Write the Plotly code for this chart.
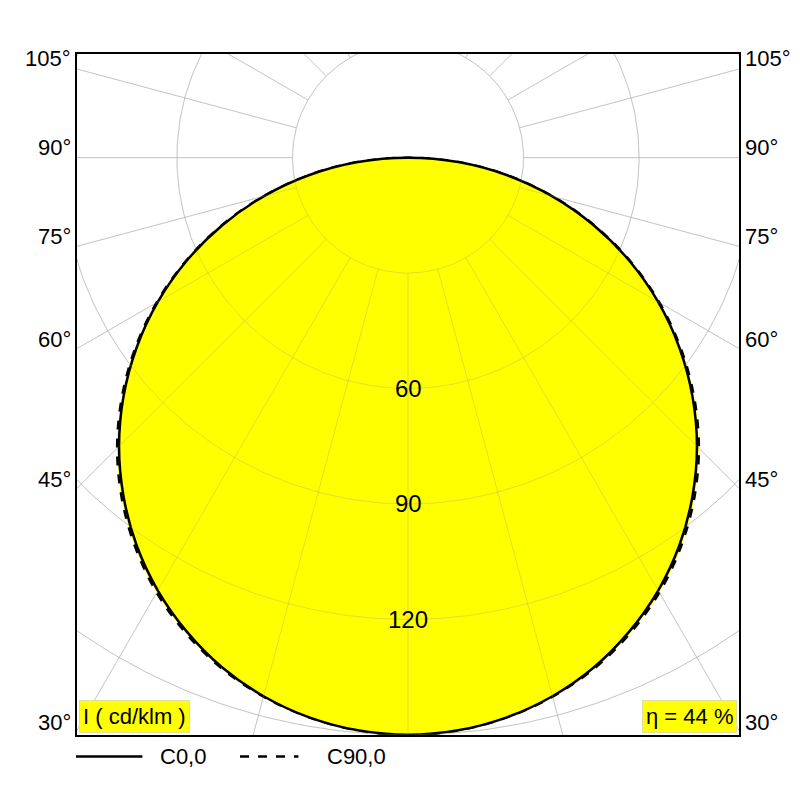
import numpy as np
import plotly.graph_objects as go

angles = [0,5,10,15,20,25,30,35,40,45,50,55,60,65,70,75,80,85,90]
c0 = [150,149.4,147.7,144.9,141.0,135.9,129.9,122.9,114.9,106.1,96.4,86.0,75.0,63.4,51.3,38.8,26.0,13.1,0]
c90 = [150,149.4,147.7,145.0,141.3,136.4,130.5,123.5,115.6,106.8,97.0,86.5,75.4,63.7,51.5,38.9,26.1,13.1,0]
grid_r = [30,60,90,120,150,180]
ring_labels = [60,90,120]
side_labels = [30,45,60,75,90,105]
eta_text = "η = 44 %"
unit_text = "I ( cd/klm )"

def xy(ang, r):
    a = np.radians(np.array(ang, float))
    r = np.array(r, float)
    return r*np.sin(a), -r*np.cos(a)

fig = go.Figure()
GC = "#dcdcdc"
t = np.linspace(0, 360, 361)

def grid(color):
    for r in grid_r:
        x, y = xy(t, [r]*len(t))
        fig.add_trace(go.Scatter(x=x, y=y, mode="lines", line=dict(color=color, width=1), hoverinfo="skip", showlegend=False))
    for a in range(0, 360, 15):
        x, y = xy([a, a], [30, 200])
        fig.add_trace(go.Scatter(x=x, y=y, mode="lines", line=dict(color=color, width=1), hoverinfo="skip", showlegend=False))

grid(GC)
full_a = [-a for a in angles[::-1]] + angles[1:]
full0 = c0[::-1] + c0[1:]
full90 = c90[::-1] + c90[1:]
x, y = xy(full_a, full90)
fig.add_trace(go.Scatter(x=x, y=y, mode="lines", fill="toself", fillcolor="#ffff00",
                         line=dict(color="black", width=2.5, dash="dash", shape="spline"), showlegend=False))
x, y = xy(full_a, full0)
fig.add_trace(go.Scatter(x=x, y=y, mode="lines", fill="toself", fillcolor="#ffff00",
                         line=dict(color="black", width=2.5, shape="spline"), showlegend=False))
grid("rgba(150,150,150,0.3)")

ann = []
for r in ring_labels:
    ann.append(dict(x=0, y=-r, text=str(r), showarrow=False, font=dict(size=24, color="black")))
XR = 86.2
for a in side_labels:
    yv = -XR/np.tan(np.radians(a)) + 2.6
    ann.append(dict(x=0, xref="paper", xanchor="right", xshift=-3, y=yv, text=f"{a}°", showarrow=False, font=dict(size=22)))
    ann.append(dict(x=1, xref="paper", xanchor="left", xshift=3, y=yv, text=f"{a}°", showarrow=False, font=dict(size=22)))
ann.append(dict(x=0.005, y=0.005, xref="paper", yref="paper", xanchor="left", yanchor="bottom", text=unit_text,
                showarrow=False, bgcolor="#ffff00", bordercolor="#e0e0a0", borderwidth=1, font=dict(size=22), borderpad=3))
ann.append(dict(x=0.995, y=0.005, xref="paper", yref="paper", xanchor="right", yanchor="bottom", text=eta_text,
                showarrow=False, bgcolor="#ffff00", bordercolor="#e0e0a0", borderwidth=1, font=dict(size=22), borderpad=3))
LY = -0.03
ann.append(dict(x=0.123, y=LY, xref="paper", yref="paper", xanchor="left", yanchor="middle", text="C0,0", showarrow=False, font=dict(size=22)))
ann.append(dict(x=0.375, y=LY, xref="paper", yref="paper", xanchor="left", yanchor="middle", text="C90,0", showarrow=False, font=dict(size=22)))

shapes = [
    dict(type="rect", xref="paper", yref="paper", x0=0, x1=1, y0=0, y1=1, line=dict(color="black", width=2)),
    dict(type="line", xref="paper", yref="paper", x0=0, x1=0.1, y0=LY, y1=LY, line=dict(color="black", width=2.5)),
    dict(type="line", xref="paper", yref="paper", x0=0.247, x1=0.335, y0=LY, y1=LY, line=dict(color="black", width=2.5, dash="dash")),
]

fig.update_layout(width=800, height=800, autosize=False,
                  margin=dict(l=68, r=68, t=45, b=72, autoexpand=False),
                  plot_bgcolor="white", paper_bgcolor="white",
                  font=dict(family="Liberation Sans, Arial", color="black"),
                  xaxis=dict(range=[-XR, XR], showgrid=False, zeroline=False, showticklabels=False, ticks=""),
                  yaxis=dict(range=[-150.3, 27.2], showgrid=False, zeroline=False, showticklabels=False, ticks=""),
                  annotations=ann, shapes=shapes, showlegend=False)
fig.write_html("out.html")
